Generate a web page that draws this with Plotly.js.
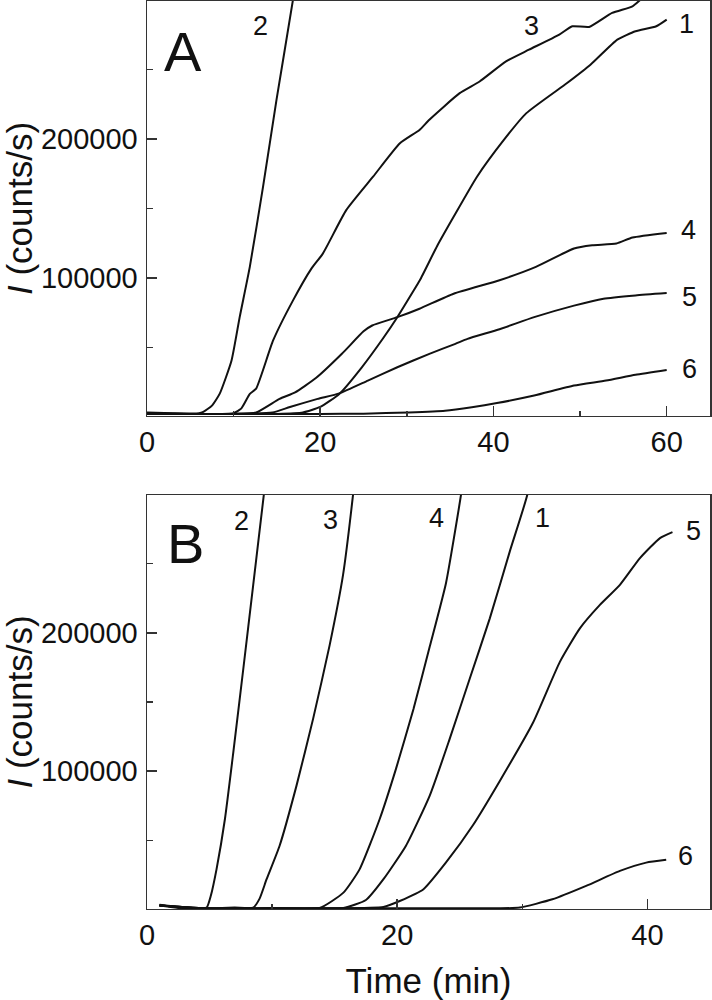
<!DOCTYPE html>
<html>
<head>
<meta charset="utf-8">
<script src="https://cdn.plot.ly/plotly-3.0.1.min.js"></script>
<style>
  body { margin: 0; background: #ffffff; }
  #chart { width: 712px; height: 1000px; }
</style>
</head>
<body>
<div id="chart"></div>
<script>
///////////////////PANEL A///////////////////
var timeA1 = [0, 5, 10, 15, 18, 20, 22.2, 24.8, 27.2, 28.9, 30.7, 31.5, 33.5, 35.4, 38.1, 41.2, 43.8, 48.5, 51.2, 54.3, 56.4, 58.8, 60];
var countsA1 = [2500, 2000, 2000, 2000, 3000, 7000, 16400, 35600, 56000, 71700, 90000, 98300, 123000, 144000, 172900, 199400, 218700, 240400, 253600, 271700, 277700, 281300, 286100];

var timeA2 = [0, 3, 6, 6.5, 7.5, 8.4, 9.76, 10.7, 11.87, 13.4, 14.95, 16.86, 17.3];
var countsA2 = [3000, 2500, 2500, 3500, 8000, 16600, 40500, 71700, 107900, 165700, 228300, 300600, 320000];

var timeA3 = [0, 5, 9.95, 10.9, 11.87, 12.6, 14.56, 16.86, 18.98, 20.3, 23.0, 26.1, 29.2, 31.46, 32.6, 36.1, 38.4, 41.45, 44.1, 47.6, 49.1, 51.05, 53.7, 56.05, 57.0, 58];
var countsA3 = [2500, 2000, 2500, 6000, 16400, 20200, 54900, 83800, 106700, 117500, 148800, 172900, 197000, 206600, 214000, 233100, 241500, 256000, 264400, 275300, 281300, 280800, 290900, 295700, 300600, 306000];

var timeA4 = [0, 5, 10, 12.6, 15.3, 17.1, 19.5, 22.5, 25.0, 26.0, 28.9, 31.46, 35.4, 40.7, 44.9, 49.3, 51.4, 54.2, 56.05, 60];
var countsA4 = [2000, 2000, 2000, 3000, 12800, 17500, 27800, 45300, 61500, 65700, 71700, 77800, 88600, 98300, 107900, 121200, 123500, 124800, 129100, 132400];

var timeA5 = [0, 5, 10, 14.5, 16.5, 19.7, 22.2, 25.5, 28.9, 32.6, 35.6, 37.0, 40.7, 44.7, 49.3, 52.7, 56.4, 60];
var countsA5 = [2000, 2000, 2000, 3000, 7000, 12800, 16800, 26000, 35600, 45300, 52500, 56100, 63000, 71700, 80000, 85000, 87400, 89100];

var timeA6 = [0, 10, 20, 25, 30.2, 34.4, 37.5, 40.4, 44.7, 49.3, 53.0, 56.4, 60];
var countsA6 = [2000, 2000, 2000, 2200, 3100, 4300, 6800, 9800, 15200, 22400, 26000, 30200, 33700];

///////////////////PANEL B///////////////////
var timeB1 = [1, 5, 10, 15.7, 17.5, 18.9, 20.7, 22.6, 24.2, 25.8, 27.4, 29.0, 30.4, 30.7];
var countsB1 = [3000, 800, 1000, 1200, 7000, 22000, 46200, 82400, 123500, 167000, 210400, 258800, 299800, 320000];

var timeB2 = [1, 2, 3, 4, 4.77, 5.1, 5.56, 6.23, 6.9, 7.7, 8.49, 9.34, 9.6];
var countsB2 = [3500, 2500, 800, 500, 1500, 10000, 29300, 65500, 113800, 174200, 234600, 299800, 320000];

var timeB3 = [1, 3, 5, 7, 8.49, 9.0, 9.56, 10.6, 11.95, 13.28, 14.6, 15.67, 16.47, 16.7];
var countsB3 = [3000, 800, 1000, 1500, 1500, 8000, 22000, 46200, 89600, 138000, 191100, 241800, 299800, 320000];

var timeB4 = [1, 5, 10, 13.8, 15.7, 17.0, 18.6, 19.9, 21.3, 22.6, 23.9, 25.1, 25.4];
var countsB4 = [3000, 800, 1000, 1200, 12300, 29300, 65500, 101700, 145000, 190000, 236000, 299800, 320000];

var timeB5 = [1, 5, 10, 15, 18.9, 20.2, 22.1, 23.9, 26.05, 28.2, 30.85, 33.0, 34.6, 36.2, 37.8, 39.4, 41.0, 42.0];
var countsB5 = [3000, 800, 1000, 1000, 2000, 6300, 14800, 34100, 61000, 93000, 135000, 179000, 203200, 220100, 234600, 253900, 268400, 272700];

var timeB6 = [1, 5, 10, 20, 28, 29.8, 32.4, 35.1, 37.8, 39.9, 41.5];
var countsB6 = [3000, 800, 1000, 1000, 1000, 1500, 7500, 17200, 28000, 34000, 36000];

// curve labels (text, time, counts) drawn next to the lines
var labelTextA = ['A', '2', '3', '1', '4', '5', '6'];
var labelTimeA = [4.2, 13.05, 44.4, 62.3, 62.5, 62.6, 62.6];
var labelCountsA = [263300, 281300, 281300, 282600, 134500, 86300, 34500];

var labelTextB = ['B', '2', '3', '4', '1', '5', '6'];
var labelTimeB = [3.04, 7.57, 14.68, 23.16, 31.63, 43.66, 43.05];
var labelCountsB = [264800, 280400, 281700, 282900, 282900, 273200, 38900];

var fontFamily = 'Liberation Sans, Arial, sans-serif';
var ink = '#111111';

function makeTrace(t, c, xa, ya) {
    return {
        x: t,
        y: c,
        xaxis: xa,
        yaxis: ya,
        mode: 'lines',
        type: 'scatter',
        line: { color: ink, width: 2, shape: 'spline', smoothing: 0.5 },
        hoverinfo: 'skip',
        showlegend: false
    };
}

var data = [
    makeTrace(timeA1, countsA1, 'x', 'y'),
    makeTrace(timeA2, countsA2, 'x', 'y'),
    makeTrace(timeA3, countsA3, 'x', 'y'),
    makeTrace(timeA4, countsA4, 'x', 'y'),
    makeTrace(timeA5, countsA5, 'x', 'y'),
    makeTrace(timeA6, countsA6, 'x', 'y'),
    makeTrace(timeB1, countsB1, 'x2', 'y2'),
    makeTrace(timeB2, countsB2, 'x2', 'y2'),
    makeTrace(timeB3, countsB3, 'x2', 'y2'),
    makeTrace(timeB4, countsB4, 'x2', 'y2'),
    makeTrace(timeB5, countsB5, 'x2', 'y2'),
    makeTrace(timeB6, countsB6, 'x2', 'y2')
];

var annotations = [];
function addLabels(txt, tx, cy, xr, yr) {
    for (var i = 0; i < txt.length; i++) {
        var big = (txt[i] == 'A' || txt[i] == 'B');
        annotations.push({
            text: txt[i],
            x: tx[i],
            y: cy[i],
            xref: xr,
            yref: yr,
            showarrow: false,
            xanchor: 'center',
            yanchor: 'middle',
            font: { family: fontFamily, size: big ? 56 : 27, color: ink }
        });
    }
}
addLabels(labelTextA, labelTimeA, labelCountsA, 'x', 'y');
addLabels(labelTextB, labelTimeB, labelCountsB, 'x2', 'y2');

function xAxis(maxT, anchor, withTitle) {
    var ax = {
        range: [0, maxT],
        domain: [0, 1],
        anchor: anchor,
        tick0: 0,
        dtick: 20,
        ticks: 'inside',
        ticklen: 10,
        tickwidth: 1.5,
        tickcolor: '#333333',
        minor: { ticks: 'inside', dtick: 10, tick0: 0, ticklen: 5, tickwidth: 1.5, tickcolor: '#333333' },
        showline: true,
        mirror: true,
        linecolor: '#333333',
        linewidth: 1.5,
        showgrid: false,
        zeroline: false,
        tickfont: { family: fontFamily, size: 29, color: ink },
        ticklabelstandoff: 0
    };
    if (withTitle) {
        ax.title = { text: 'Time (min)', font: { family: fontFamily, size: 35, color: ink }, standoff: 18 };
    }
    return ax;
}

function yAxis(dom, anchor) {
    return {
        range: [500, 299500],
        domain: dom,
        anchor: anchor,
        tick0: 0,
        dtick: 100000,
        ticks: 'inside',
        ticklen: 10,
        tickwidth: 1.5,
        tickcolor: '#333333',
        minor: { ticks: 'inside', dtick: 50000, tick0: 0, ticklen: 6, tickwidth: 1.5, tickcolor: '#333333' },
        showline: true,
        mirror: true,
        linecolor: '#333333',
        linewidth: 1.5,
        showgrid: false,
        zeroline: false,
        tickformat: 'd',
        tickfont: { family: fontFamily, size: 29, color: ink },
        ticklabelstandoff: 2,
        title: { text: '<i>I</i> (counts/s)', font: { family: fontFamily, size: 35, color: ink }, standoff: 10 }
    };
}

var layout = {
    width: 712,
    height: 1000,
    margin: { l: 147, r: 2, t: 1, b: 0 },
    paper_bgcolor: '#ffffff',
    plot_bgcolor: '#ffffff',
    font: { family: fontFamily, color: ink },
    xaxis: xAxis(65, 'y', false),
    yaxis: yAxis([0.5846, 1], 'x'),
    xaxis2: xAxis(45, 'y2', true),
    yaxis2: yAxis([0.0911, 0.5055], 'x2'),
    annotations: annotations
};

Plotly.newPlot('chart', data, layout, { displayModeBar: false, staticPlot: true });
</script>
</body>
</html>
